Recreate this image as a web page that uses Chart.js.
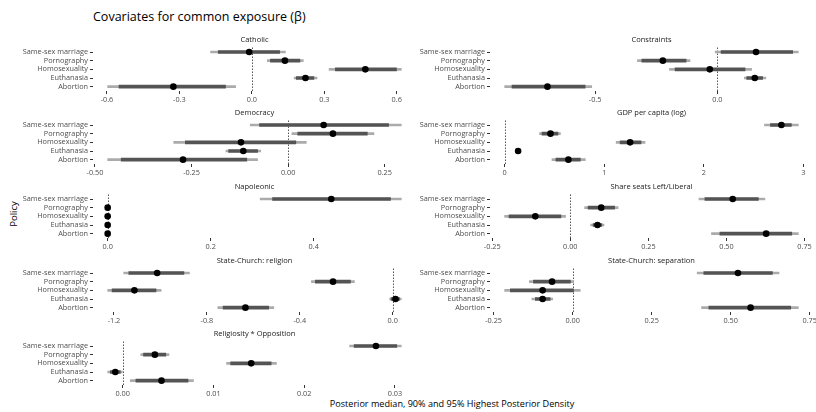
<!DOCTYPE html>
<html>
<head>
<meta charset="utf-8">
<script src="https://cdn.jsdelivr.net/npm/chart.js@4.4.1/dist/chart.umd.min.js"></script>
<style>
  html, body { margin: 0; padding: 0; background: #fff; overflow: hidden; }
  body { width: 816px; height: 412px; position: relative; font-family: "Open Sans", sans-serif; }
  canvas { position: absolute; }
  .txt { position: absolute; white-space: nowrap; color: #000; }
</style>
</head>
<body>
<div class="txt" id="title" style="left:93px; top:8px; font-size:12.5px;">Covariates for common exposure (β)</div>
<div class="txt" id="ylab" style="left:13px; top:214px; font-size:9.5px; transform: translate(-50%, -50%) rotate(-90deg);">Policy</div>
<div class="txt" id="xlab" style="left:452px; top:403px; font-size:9.1px; transform: translate(-50%, -50%);">Posterior median, 90% and 95% Highest Posterior Density</div>

<script>
// Data
const policies = ['Same-sex marriage', 'Pornography', 'Homosexuality', 'Euthanasia', 'Abortion'];

const catholicMed = [-0.011, 0.137, 0.470, 0.222, -0.325];
const catholic90 = [[-0.139, 0.115], [0.077, 0.199], [0.346, 0.599], [0.184, 0.257], [-0.550, -0.109]];
const catholic95 = [[-0.171, 0.139], [0.064, 0.213], [0.320, 0.619], [0.175, 0.270], [-0.597, -0.067]];
const catholicTicks = ['-0.6', '-0.3', '0.0', '0.3', '0.6'];

const constraintsMed = [0.158, -0.223, -0.031, 0.153, -0.695];
const constraints90 = [[0.015, 0.308], [-0.309, -0.128], [-0.173, 0.113], [0.120, 0.185], [-0.840, -0.541]];
const constraints95 = [[-0.009, 0.331], [-0.327, -0.112], [-0.196, 0.140], [0.110, 0.198], [-0.870, -0.514]];
const constraintsTicks = ['-0.5', '0.0'];

const democracyMed = [0.092, 0.116, -0.122, -0.116, -0.272];
const democracy90 = [[-0.074, 0.260], [0.025, 0.205], [-0.266, 0.020], [-0.154, -0.079], [-0.432, -0.107]];
const democracy95 = [[-0.098, 0.293], [0.010, 0.222], [-0.296, 0.047], [-0.161, -0.071], [-0.467, -0.079]];
const democracyTicks = ['-0.50', '-0.25', '0.00', '0.25'];

const gdpMed = [2.78, 0.46, 1.26, 0.135, 0.64];
const gdp90 = [[2.67, 2.88], [0.375, 0.535], [1.16, 1.37], [0.12, 0.15], [0.515, 0.76]];
const gdp95 = [[2.61, 2.95], [0.35, 0.56], [1.12, 1.41], [0.11, 0.16], [0.475, 0.81]];
const gdpTicks = ['0', '1', '2', '3'];

const napoleonicMed = [0.434, 0, 0, 0, 0];
const napoleonic90 = [[0.320, 0.549], [0, 0], [0, 0], [0, 0], [0, 0]];
const napoleonic95 = [[0.296, 0.570], [0, 0], [0, 0], [0, 0], [0, 0]];
const napoleonicTicks = ['0.0', '0.2', '0.4'];

const shareMed = [0.520, 0.099, -0.112, 0.087, 0.627];
const share90 = [[0.431, 0.602], [0.057, 0.142], [-0.196, -0.030], [0.073, 0.101], [0.479, 0.709]];
const share95 = [[0.412, 0.623], [0.046, 0.153], [-0.210, -0.015], [0.065, 0.108], [0.452, 0.730]];
const shareTicks = ['-0.25', '0.00', '0.25', '0.50', '0.75'];

const religionMed = [-1.014, -0.257, -1.112, 0.012, -0.634];
const religion90 = [[-1.136, -0.899], [-0.333, -0.182], [-1.208, -1.019], [-0.007, 0.029], [-0.730, -0.534]];
const religion95 = [[-1.158, -0.875], [-0.350, -0.165], [-1.227, -0.997], [-0.013, 0.037], [-0.753, -0.512]];
const religionTicks = ['-1.2', '-0.8', '-0.4', '0.0'];

const separationMed = [0.523, -0.065, -0.095, -0.095, 0.563];
const separation90 = [[0.415, 0.632], [-0.124, -0.007], [-0.197, 0.003], [-0.118, -0.071], [0.431, 0.690]];
const separation95 = [[0.394, 0.653], [-0.137, 0.003], [-0.215, 0.024], [-0.129, -0.063], [0.408, 0.714]];
const separationTicks = ['-0.25', '0.00', '0.25', '0.50', '0.75'];

const religiosityMed = [0.0279, 0.00355, 0.01416, -0.00081, 0.00428];
const religiosity90 = [[0.0255, 0.0302], [0.0023, 0.00475], [0.0119, 0.01636], [-0.00136, -0.00026], [0.00146, 0.0072]];
const religiosity95 = [[0.0250, 0.0307], [0.0020, 0.0051], [0.01145, 0.01694], [-0.00165, -0.00004], [0.00084, 0.0078]];
const religiosityTicks = ['0.00', '0.01', '0.02', '0.03'];

Chart.defaults.font.family = '"Open Sans", sans-serif';
Chart.defaults.animation = false;

// zero line + strip title
const facetPlugin = {
  id: 'facet',
  beforeDatasetsDraw(chart) {
    const { ctx, chartArea: a } = chart;
    const px = Math.round(chart.scales.x.getPixelForValue(0)) + 0.5;
    ctx.save();
    ctx.strokeStyle = '#000';
    ctx.lineWidth = 1;
    ctx.setLineDash([1, 2]);
    ctx.beginPath();
    ctx.moveTo(px, a.top);
    ctx.lineTo(px, a.bottom);
    ctx.stroke();
    ctx.restore();
  },
  afterDraw(chart, args, opts) {
    const { ctx, chartArea: a } = chart;
    ctx.save();
    ctx.font = '7.5px "Open Sans", sans-serif';
    ctx.fillStyle = '#1a1a1a';
    ctx.textAlign = 'center';
    ctx.textBaseline = 'middle';
    ctx.fillText(opts.text, (a.left + a.right) / 2, a.top - 8);
    ctx.restore();
  }
};

const rowTops = [31.5, 105, 178.5, 252.5, 326];

function panel(title, med, ci90, ci95, ticks, col, row) {
  const canvas = document.createElement('canvas');
  canvas.width = 420;
  canvas.height = 73;
  canvas.style.left = (col === 0 ? 0 : 405) + 'px';
  canvas.style.top = rowTops[row] + 'px';
  document.body.appendChild(canvas);

  // x range like ggplot: data + zero line, 5% expansion
  const all = [0].concat(...ci95, med);
  const lo = Math.min(...all), hi = Math.max(...all);
  const pad = (hi - lo) * 0.05;

  new Chart(canvas, {
    type: 'bar',
    data: {
      labels: policies,
      datasets: [
        {
          type: 'scatter',
          data: med.map((m, i) => ({ x: m, y: policies[i] })),
          backgroundColor: '#000',
          borderWidth: 0,
          pointRadius: 3.3,
          order: 0
        },
        {
          data: ci90,
          backgroundColor: '#545454',
          barThickness: 3,
          grouped: false,
          order: 1
        },
        {
          data: ci95,
          backgroundColor: '#ababab',
          barThickness: 2,
          grouped: false,
          order: 2
        }
      ]
    },
    options: {
      indexAxis: 'y',
      responsive: false,
      maintainAspectRatio: false,
      layout: { padding: { top: 15.67, right: col === 0 ? 4 : 12, bottom: 0, left: 0 } },
      plugins: {
        legend: { display: false },
        tooltip: { enabled: false },
        facet: { text: title }
      },
      scales: {
        x: {
          type: 'linear',
          min: lo - pad,
          max: hi + pad,
          afterBuildTicks: s => { s.ticks = ticks.map(t => ({ value: Number(t) })); },
          afterFit: s => { s.height = 14; },
          ticks: {
            autoSkip: false,
            maxRotation: 0,
            padding: 1.5,
            color: '#4d4d4d',
            font: { size: 7.3 },
            callback: (v, i) => ticks[i]
          },
          grid: { drawOnChartArea: false, tickLength: 3, tickColor: '#333' },
          border: { display: false }
        },
        y: {
          type: 'category',
          offset: true,
          afterFit: s => { s.width = col === 0 ? 93 : 85; },
          ticks: { autoSkip: false, padding: 2, color: '#4d4d4d', font: { size: 7.3 } },
          grid: { drawOnChartArea: false, offset: false, tickLength: 3, tickColor: '#333' },
          border: { display: false }
        }
      }
    },
    plugins: [facetPlugin]
  });
}

panel('Catholic', catholicMed, catholic90, catholic95, catholicTicks, 0, 0);
panel('Constraints', constraintsMed, constraints90, constraints95, constraintsTicks, 1, 0);
panel('Democracy', democracyMed, democracy90, democracy95, democracyTicks, 0, 1);
panel('GDP per capita (log)', gdpMed, gdp90, gdp95, gdpTicks, 1, 1);
panel('Napoleonic', napoleonicMed, napoleonic90, napoleonic95, napoleonicTicks, 0, 2);
panel('Share seats Left/Liberal', shareMed, share90, share95, shareTicks, 1, 2);
panel('State-Church: religion', religionMed, religion90, religion95, religionTicks, 0, 3);
panel('State-Church: separation', separationMed, separation90, separation95, separationTicks, 1, 3);
panel('Religiosity * Opposition', religiosityMed, religiosity90, religiosity95, religiosityTicks, 0, 4);
</script>
</body>
</html>
